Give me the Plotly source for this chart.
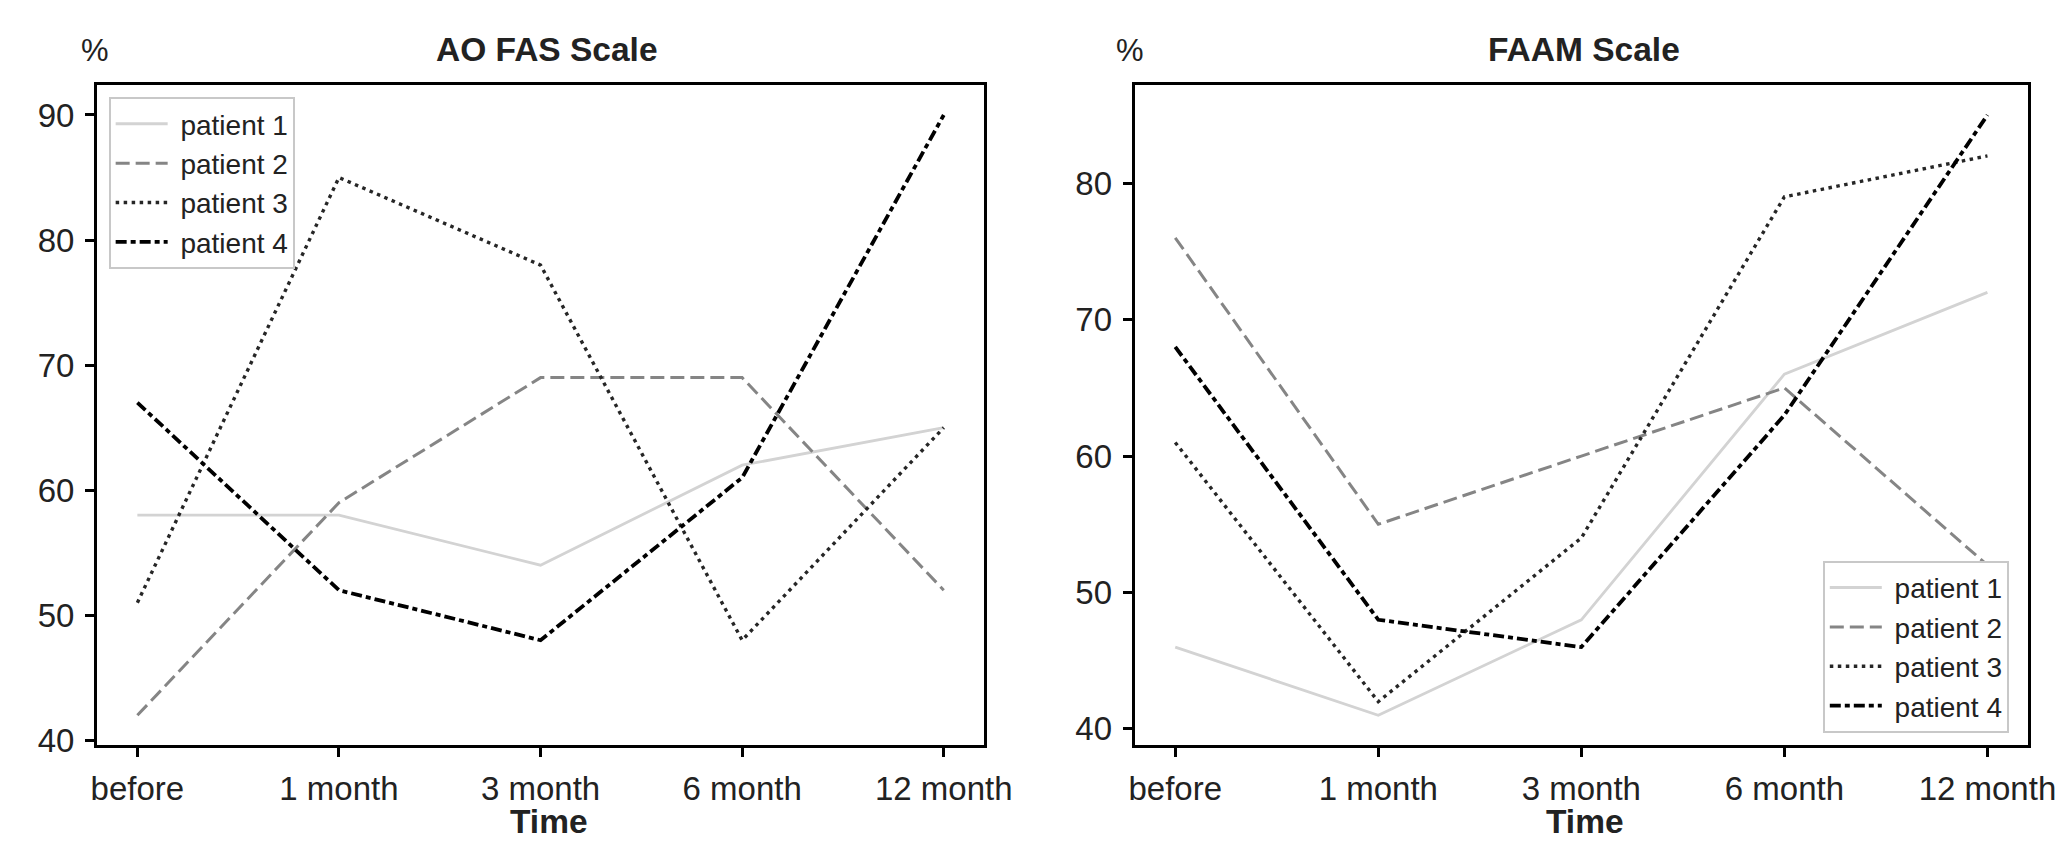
import plotly.graph_objects as go

categories = ["before", "1 month", "3 month", "6 month", "12 month"]
patients = ["patient 1", "patient 2", "patient 3", "patient 4"]

ao_fas = {
    "patient 1": [58, 58, 54, 62, 65],
    "patient 2": [42, 59, 69, 69, 52],
    "patient 3": [51, 85, 78, 48, 65],
    "patient 4": [67, 52, 48, 61, 90],
}
faam = {
    "patient 1": [46, 41, 48, 66, 72],
    "patient 2": [76, 55, 60, 65, 52],
    "patient 3": [61, 42, 54, 79, 82],
    "patient 4": [68, 48, 46, 63, 85],
}

styles = {
    "patient 1": dict(color="#d3d3d3", width=2.8, dash="solid"),
    "patient 2": dict(color="#858585", width=3.0, dash="14px,6px"),
    "patient 3": dict(color="#262626", width=3.4, dash="3.5px,4.5px"),
    "patient 4": dict(color="#000000", width=3.8, dash="11px,4px,5px,4px"),
}

FONT = "Liberation Sans, Arial, Helvetica, sans-serif"
TXT = "#222222"
GAP = "\u00a0"  # small visual gap between legend sample and label

fig = go.Figure()
for p in patients:
    fig.add_trace(go.Scatter(x=categories, y=ao_fas[p], mode="lines", name=GAP + p,
                             line=styles[p], xaxis="x", yaxis="y", legend="legend"))
for p in patients:
    fig.add_trace(go.Scatter(x=categories, y=faam[p], mode="lines", name=GAP + p,
                             line=styles[p], xaxis="x2", yaxis="y2", legend="legend2"))

axis_common = dict(showline=True, linecolor="black", linewidth=3, mirror=True,
                   ticks="outside", ticklen=9, tickwidth=2.5, tickcolor="black",
                   showgrid=False, zeroline=False, automargin=False,
                   tickfont=dict(family=FONT, size=33, color=TXT))

legend_common = dict(bgcolor="white", bordercolor="#c8c8c8", borderwidth=1.8,
                     font=dict(family=FONT, size=28, color=TXT),
                     tracegroupgap=0, itemwidth=52)

fig.update_layout(
    width=2071, height=846,
    paper_bgcolor="white", plot_bgcolor="white",
    margin=dict(l=0, r=0, t=0, b=0),
    font=dict(family=FONT, color=TXT),
    xaxis=dict(domain=[0.0430, 0.4713], anchor="y", type="category",
               range=[-0.2, 4.2], ticklabelstandoff=3, **axis_common),
    yaxis=dict(domain=[0.1285, 0.9090], anchor="x", range=[39.6, 92.4],
               tickvals=[40, 50, 60, 70, 80, 90], ticklabelstandoff=4, **axis_common),
    xaxis2=dict(domain=[0.5440, 0.9754], anchor="y2", type="category",
                range=[-0.2, 4.2], ticklabelstandoff=3, **axis_common),
    yaxis2=dict(domain=[0.1285, 0.9090], anchor="x2", range=[38.8, 87.2],
                tickvals=[40, 50, 60, 70, 80], ticklabelstandoff=4, **axis_common),
    legend=dict(x=0.0487, y=0.8945, xanchor="left", yanchor="top", **legend_common),
    legend2=dict(x=0.9662, y=0.143, xanchor="right", yanchor="bottom", **legend_common),
    showlegend=True,
)

annotations = [
    dict(text="<b>AO FAS Scale</b>", x=0.2604, y=0.9515, size=33.5),
    dict(text="<b>FAAM Scale</b>", x=0.7612, y=0.9515, size=33.5),
    dict(text="%", x=0.0419, y=0.9498, size=31),
    dict(text="%", x=0.5417, y=0.9498, size=31),
    dict(text="<b>Time</b>", x=0.2611, y=0.0387, size=33.5),
    dict(text="<b>Time</b>", x=0.7613, y=0.0387, size=33.5),
]
for a in annotations:
    fig.add_annotation(text=a["text"], x=a["x"], y=a["y"], xref="paper", yref="paper",
                       xanchor="center", yanchor="middle", showarrow=False,
                       font=dict(family=FONT, size=a["size"], color=TXT))

fig.write_html("out.html")
